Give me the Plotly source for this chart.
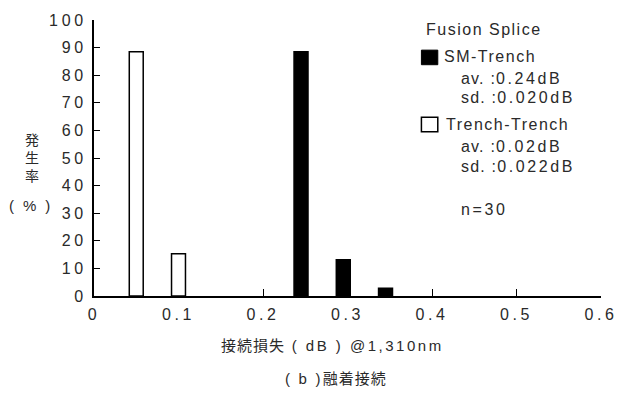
import plotly.graph_objects as go

# Splice loss histogram data (loss in dB, occurrence in %)
sm_trench_loss = [0.245, 0.295, 0.345]
sm_trench_pct = [88.5, 13.1, 2.8]
trench_trench_loss = [0.05, 0.10]
trench_trench_pct = [88.5, 15.3]

x_ticks = [0, 0.1, 0.2, 0.3, 0.4, 0.5, 0.6]
x_tick_labels = ["0", "0.1", "0.2", "0.3", "0.4", "0.5", "0.6"]
y_ticks = [0, 10, 20, 30, 40, 50, 60, 70, 80, 90, 100]
y_tick_labels = ["0", "10", "20", "30", "40", "50", "60", "70", "80", "90", "100"]

sm_stats = ("0.24", "0.020")
tt_stats = ("0.02", "0.022")
n_samples = 30

FONT = "Liberation Sans, Arial, Noto Sans CJK JP, sans-serif"
TXT = "#2a2a2a"
BAR_W = 0.0165

W, H = 630, 393
L, R, T, B = 94, 25, 12, 97


def sp(s, ls):
    return f'<span style="letter-spacing:{ls}px">{s}</span>'


def px(x):
    return (x - L) / (W - L - R)


def py(y):
    return (H - B - y) / (H - T - B)


fig = go.Figure()
fig.add_trace(go.Bar(
    x=trench_trench_loss, y=trench_trench_pct, width=BAR_W,
    marker=dict(color="white", line=dict(color="black", width=1.5)),
    name="Trench-Trench", showlegend=False,
))
fig.add_trace(go.Bar(
    x=sm_trench_loss, y=sm_trench_pct, width=BAR_W,
    marker=dict(color="black", line=dict(color="black", width=1.5)),
    name="SM-Trench", showlegend=False,
))

axis_common = dict(
    showline=True, linecolor="black", linewidth=1.5,
    ticks="inside", tickcolor="black", tickwidth=1,
    showgrid=False, zeroline=False, layer="below traces",
    tickfont=dict(family=FONT, size=16, color=TXT),
)
fig.update_xaxes(range=[0, 0.6], tickvals=x_ticks,
                 ticktext=[sp(t, 3.6) for t in x_tick_labels], ticklen=7,
                 ticklabelstandoff=3, **axis_common)
fig.update_yaxes(range=[0, 100], tickvals=y_ticks,
                 ticktext=[sp(t, 3.8) for t in y_tick_labels], ticklen=6,
                 ticklabelstandoff=2, **axis_common)

ann = []


def text(x, y, s, size=16, xanchor="left"):
    ann.append(dict(x=px(x), y=py(y), xref="paper", yref="paper", text=s,
                    showarrow=False, xanchor=xanchor, yanchor="middle",
                    font=dict(family=FONT, size=size, color=TXT)))


text(427, 22, sp("Fusion Splice", 1.5))
text(445, 50, sp("SM-Trench", 1.5))
text(462, 72, sp("av. :", 1.2) + sp(sm_stats[0] + "dB", 2.6))
text(462, 92, sp("sd. :", 1.2) + sp(sm_stats[1] + "dB", 2.6))
text(447, 120, sp("Trench-Trench", 1.5))
text(462, 142, sp("av. :", 1.2) + sp(tt_stats[0] + "dB", 2.6))
text(462, 163, sp("sd. :", 1.2) + sp(tt_stats[1] + "dB", 2.6))
text(462, 207, sp(f"n={n_samples}", 2.6))

# vertical y-axis title, stacked characters
text(32, 154, "発<br>生<br>率", size=14, xanchor="center")
text(31, 203, sp("( % )", 2.4), size=15, xanchor="center")
text(334, 347, sp("接続損失", 1.0) + sp(" ( dB ) @1,310nm", 2.5), size=15,
     xanchor="center")
text(338, 381, sp("( b )", 2.2) + sp("融着接続", 1.0), size=15, xanchor="center")

shapes = [
    dict(type="rect", xref="paper", yref="paper",
         x0=px(424), x1=px(440.5), y0=py(58), y1=py(43),
         fillcolor="black", line=dict(color="black", width=1)),
    dict(type="rect", xref="paper", yref="paper",
         x0=px(424), x1=px(440.5), y0=py(127), y1=py(112),
         fillcolor="white", line=dict(color="black", width=1.5)),
]

fig.update_layout(
    width=W, height=H,
    margin=dict(l=L, r=R, t=T, b=B),
    paper_bgcolor="white", plot_bgcolor="white",
    barmode="overlay",
    annotations=ann, shapes=shapes,
    font=dict(family=FONT, color=TXT),
)

fig.write_html("out.html")
